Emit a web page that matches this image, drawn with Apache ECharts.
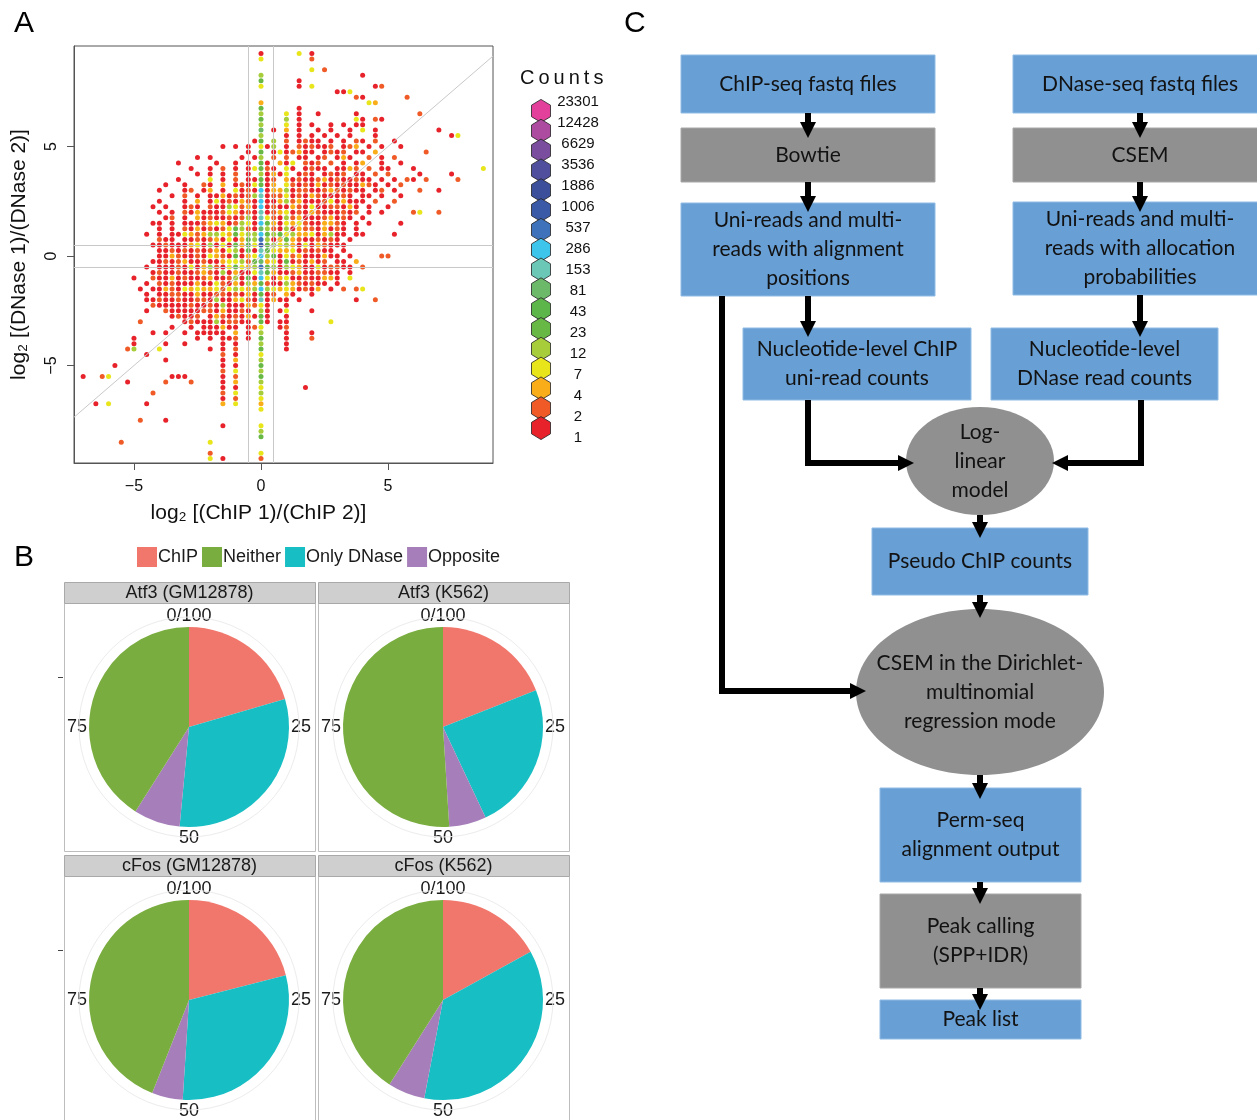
<!DOCTYPE html>
<html>
<head>
<meta charset="utf-8">
<title>Perm-seq figure</title>
<script src="https://cdn.jsdelivr.net/npm/echarts@6/dist/echarts.min.js"></script>
<style>
  html, body { margin: 0; padding: 0; background: #fff; }
  #main { width: 1257px; height: 1120px; }
</style>
</head>
<body>
<div id="main"></div>
<script>
// ---------- panel A : hexbin counts ----------
// one string per y level, top row y = 9.25, going down by 0.25
// groups of 4 chars = one x unit, first group starts at x = -7 (step 0.25)
// r=1 o=2 a=4 y=7 l=12 g=23 G=43 m=81 t=153 c=286 b=537 B=1006
var hexRows = [
  ".... .... .... .... .... .... .... r... ..y. r... .... .... .... .... .... .... ....",
  ".... .... .... .... .... .... .... y... .... o... .... .... .... .... .... .... ....",
  ".... .... .... .... .... .... .... .... .... .... .... .... .... .... .... .... ....",
  ".... .... .... .... .... .... .... .... .... y.o. .... .... .... .... .... .... ....",
  ".... .... .... .... .... .... .... l... .... .... .... r... .... .... .... .... ....",
  ".... .... .... .... .... .... .... g... ..r. .... .... .... .... .... .... .... ....",
  ".... .... .... .... .... .... .... y... ..r. y... .... ..ro .... .... .... .... ....",
  ".... .... .... .... .... .... .... .... .... .... rry. .... .... .... .... .... ....",
  ".... .... .... .... .... .... .... .... .... .... ...o r... ...o .... .... .... ....",
  ".... .... .... .... .... .... .... a... .... .... .... .ya. .... .... .... .... ....",
  ".... .... .... .... .... .... .... g... ..r. .... .... .... .... .... .... .... ....",
  ".... .... .... .... .... .... .... l... y.r. .r.. ...r .... .... .o.. .... .... ....",
  ".... .... .... .... .... .... .... g... l.r. .... ...y r.or .... .... .... .... ....",
  ".... .... .... .... .... .... .... l... y.r. r..r .r.r r... .... .... .... .... ....",
  ".... .... .... .... .... .... .... m.r. a.r. .r.r ..r. y.r. .... .... r... .... ....",
  ".... .... .... .... .... .... .... l... r.r. r.r. r.r. ..r. .... .... ..ry .... ....",
  ".... .... .... .... .... .... ...r g.l. o.ro rr.r .r.o r.o. .r.. .... .... .... ....",
  ".... .... .... .... .... ..r. r.r. yrl. r.or orro .roa .r.r ..r. .... .... .... ....",
  ".... .... .... .... .... .... ..r. g.ry roar r.ro ro.r r.a. .... ..o. .... .... ....",
  ".... .... .... .... ..r. r... .r.r l.o. o.rr .ro. rar. .o.r .o.. .... .... .... ....",
  ".... .... .... ...r .... .r.. r.r. gr.a ry.o ro.o .r.r a..r ..r. .... .... .... ....",
  ".... .... .... .... .r.. r.o. r.ry gor. yr.r orr. rrao .o.r r... r... .... ...y ....",
  ".... .... .... .... ..r. r.r. o.r. lrar y.ro r.ro ro.r r.o. o... .r.. ..r. .... ....",
  ".... .... .... ...r .... y.r. o.rr gro. aror roar orro rr.r .r.o r.o. ...o .... ....",
  ".... .... .... .r.. r..o r.a. rory gra. yoro raro rorr aor. r.o. .... .... .... ....",
  ".... .... .... r... ro.r a.r. yror craa lroo rroa oror r.ro .r.. .o.. r... .... ....",
  ".... .... .... ..r. o.r. rrar orol troo yror aorr ror. rr.r ..r. .... .... .... ....",
  ".... .... .... r... r.a. ryro raor crra loar rroy rarr r.o. .o.. .... .... .... ....",
  ".... .... ...r .r.. ror. orrl yoar cror raor yrro orar .r.. r... .... .... .... ....",
  ".... .... .... r.r. orar rroy aror troa yror aorr roro .r.r .... oy.. o... .... ....",
  ".... .... .... .ro. r.ar orro rolr tyor loar rroa ror. r... .... .... .... .... ....",
  ".... .... ...r r.r. rrro ayar olyr cgar yayo rraa or.r .r.. ..r. .... .... .... ....",
  ".... .... .... r.r. orar oroy glor mlor lrao orar or.r .... .... .... .... .... ....",
  ".... .... ..r. r.rr yaoa llya gyll cglg ylaa yral rr.r r... .r.. .... .... .... ....",
  ".... .... .... orr. rror oary ragl blra gaor roro r.r. .... .... .... .... .... ....",
  ".... .... ...r rorr rayr lryr gaGy Bgly lary raor rr.. .... .... .... .... .... ....",
  ".... .... .... rror oror oary lrgr tgya ayro rorr .r.. .... .... .... .... .... ....",
  ".... .... .... rrao rror yaor gray clgr yoar rrar r.r. ...o o... .... .... .... ....",
  ".... .... ...r roro arro rray ylog mayr gror aro. rr.a .... .... .... .... .... ....",
  ".... .... ..r. rrro ryra lory gyal bglr lyar ryro orr. o... .... .... .... .... ....",
  ".... .... ...r orro rroa orlr arry tgar roar roor r.r. .... .... .... .... .... ....",
  ".... .... r..o rrar orro arro lrgr cyra yrro rraa r.y. .... .... .... .... .... ....",
  ".... .... ..r. oror rrar ryor arla gorr laor orr. r... .... .... .... .... .... ....",
  ".... .... .r.r raor yaya ayoy lyal clya yaro ra.r .o.o y... .... .... .... .... ....",
  ".... .... ..r. rroo rrar roor orar gro. ar.. r... .... .... .... .... .... .... ....",
  ".... .... ..rr orro rroo rlrr ayor trar r.r. .... ...r ..o. .... .... .... .... ....",
  ".... .... ...o rrrr rorr orlr rrao yr.. r... .... .... .... .... .... .... .... ....",
  ".... .... ..r. .orr rrro orar ror. lr.r y... r... .... .... .... .... .... .... ....",
  ".... .... .... ..ro rro. raor orar gr.. r... .... .... .... .... .... .... .... ....",
  ".... .... .o.. .... rorr rlro orr. gr.r r... ...y .... .... .... .... .... .... ....",
  ".... .... .... ..r. .r.r rrar r.ro y..r o... .... .... .... .... .... .... .... ....",
  ".... .... ...r .r.. r.rr rrr. a.r. l... r... r... .... .... .... .... .... .... ....",
  ".... .... r... .... ..r. r.rr o.r. g... r... o... .... .... .... .... .... .... ....",
  ".... .... r... .r.. r... ..r. r... l... r... .... .... .... .... .... .... .... ....",
  ".... ...o l... y... .... r.r. o... g... r... .... .... .... .... .... .... .... ....",
  ".... .... ..r. .... .... ..o. r... y... .... .... .... .... .... .... .... .... ....",
  ".... .... .... .r.. .... ..r. a... l... .... .... .... .... .... .... .... .... ....",
  ".... .r.. .... .... .... ..r. r... g... .... .... .... .... .... .... .... .... ....",
  ".... .... .... .... .... ..o. y... l... .... .... .... .... .... .... .... .... ....",
  "r..o y... .... ..rr r... ..r. o... g... .... .... .... .... .... .... .... .... ....",
  ".... ...r .... .o.. .o.. ..r. a... l... .... .... .... .... .... .... .... .... ....",
  ".... .... .... .... .... ..r. r... y... ...r .... .... .... .... .... .... .... ....",
  ".... .... ...o .... .... ..o. y... l... .... .... .... .... .... .... .... .... ....",
  ".... .... .... .... .... ..r. o... y... .... .... .... .... .... .... .... .... ....",
  "..r. y... ..r. .... .... ..a. y... a... .... .... .... .... .... .... .... .... ....",
  ".... .... .... .... .... .... .... y... .... .... .... .... .... .... .... .... ....",
  ".... .... .... .... .... .... .... .... .... .... .... .... .... .... .... .... ....",
  ".... .... .o.. .r.. .... .... .... .... .... .... .... .... .... .... .... .... ....",
  ".... .... .... .... .... ..r. .... y... .... .... .... .... .... .... .... .... ....",
  ".... .... .... .... .... .... .... l... .... .... .... .... .... .... .... .... ....",
  ".... .... .... .... .... .... .... g... .... .... .... .... .... .... .... .... ....",
  ".... ..o. .... .... .... y... .... .... .... .... .... .... .... .... .... .... ....",
  ".... .... .... .... .... .... .... .... .... .... .... .... .... .... .... .... ....",
  ".... .... .... .... .... o... .... y... .... .... .... .... .... .... .... .... ....",
  ".... .... .... .... .... y.r. .... o... .... .... .... .... .... .... .... .... ...."
];
var rowTop = 9.25, colLeft = -7, cellStep = 0.25;
var codeCounts = { r: '1', o: '2', a: '4', y: '7', l: '12', g: '23', G: '43', m: '81', t: '153', c: '286', b: '537', B: '1006' };

var countLevels = ['23301', '12428', '6629', '3536', '1886', '1006', '537', '286', '153', '81', '43', '23', '12', '7', '4', '2', '1'];
var levelColors = ['#e2409a', '#ac4b9f', '#7b4d9e', '#4f4f9d', '#3c4f9b', '#3a59a7', '#3e72ba', '#3ec5ec', '#6bc7b6', '#6cb96a', '#5db649', '#68b846', '#a7cd3a', '#e9e51b', '#f9ad19', '#ef5a26', '#e8222a'];

var xTicks = [-5, 0, 5];
var yTicks = [-5, 0, 5];
var foldCut = [-0.5, 0.5];

// ---------- panel B : percentage of peaks per class ----------
var facetTitles = ['Atf3 (GM12878)', 'Atf3 (K562)', 'cFos (GM12878)', 'cFos (K562)'];
var pieCategories = ['ChIP', 'Only DNase', 'Opposite', 'Neither'];
var chipPct = [20.5, 19, 21, 17];
var onlyDnasePct = [31, 24, 30, 36];
var oppositePct = [7.5, 6, 5, 6];
var neitherPct = [41, 51, 44, 41];
var legendOrder = ['ChIP', 'Neither', 'Only DNase', 'Opposite'];
var angleTicks = [0, 25, 50, 75];

// ---------- panel C : pipeline ----------
var flowText = [
  'ChIP-seq fastq files',
  'DNase-seq fastq files',
  'Bowtie',
  'CSEM',
  'Uni-reads and multi-\nreads with alignment\npositions',
  'Uni-reads and multi-\nreads with allocation\nprobabilities',
  'Nucleotide-level ChIP\nuni-read counts',
  'Nucleotide-level\nDNase read counts',
  'Log-\nlinear\nmodel',
  'Pseudo ChIP counts',
  'CSEM in the Dirichlet-\nmultinomial\nregression mode',
  'Perm-seq\nalignment output',
  'Peak calling\n(SPP+IDR)',
  'Peak list'
];
var flowKind = ['file', 'file', 'tool', 'tool', 'file', 'file', 'file', 'file', 'model', 'file', 'model', 'file', 'tool', 'file'];

// layout (pixels of the figure)
var flowBoxes = [
  [681, 55, 935, 113], [1013, 55, 1267, 113],
  [681, 128, 935, 182], [1013, 128, 1267, 182],
  [681, 203, 935, 296], [1013, 202, 1267, 295],
  [743, 328, 971, 400], [991, 328, 1218, 400],
  [906, 407, 1054, 515],
  [872, 528, 1088, 595],
  [856, 609, 1104, 775],
  [880, 788, 1081, 882],
  [880, 894, 1081, 988],
  [880, 1000, 1081, 1039]
];
var flowArrows = [
  [[808, 113], [808, 130]],
  [[808, 182], [808, 204]],
  [[1140, 113], [1140, 130]],
  [[1140, 182], [1140, 204]],
  [[808, 296], [808, 329]],
  [[1140, 295], [1140, 329]],
  [[808, 400], [808, 463], [906, 463]],
  [[1141, 400], [1141, 463], [1060, 463]],
  [[980, 515], [980, 530]],
  [[980, 595], [980, 610]],
  [[722, 296], [722, 691], [858, 691]],
  [[980, 775], [980, 791]],
  [[980, 882], [980, 896]],
  [[980, 988], [980, 1002]]
];
var pieCenters = [[189, 727], [443, 727], [189, 1000], [443, 1000]];
var stripBoxes = [[64, 582, 315, 603], [318, 582, 569, 603], [64, 855, 315, 876], [318, 855, 569, 876]];
var panelBoxes = [[64, 603, 315, 851], [318, 603, 569, 851], [64, 876, 315, 1130], [318, 876, 569, 1130]];

var catColors = { 'ChIP': '#f1766b', 'Neither': '#7aad3f', 'Only DNase': '#17bec3', 'Opposite': '#a67fba' };
var pieValues = { 'ChIP': chipPct, 'Only DNase': onlyDnasePct, 'Opposite': oppositePct, 'Neither': neitherPct };

var chart = echarts.init(document.getElementById('main'));

// hexbin points
var hexData = [];
hexRows.forEach(function (row, j) {
  var s = row.replace(/ /g, '');
  for (var i = 0; i < s.length; i++) {
    var c = s.charAt(i);
    if (c === '.') continue;
    hexData.push([colLeft + i * cellStep, rowTop - j * cellStep, codeCounts[c]]);
  }
});

function minusFmt(v) {
  return v < 0 ? '\u2212' + Math.abs(v) : String(v);
}

var series = [];

series.push({
  type: 'scatter',
  name: 'hexbin',
  xAxisIndex: 0,
  yAxisIndex: 0,
  symbol: 'circle',
  symbolSize: 5,
  silent: true,
  data: hexData,
  itemStyle: {
    opacity: 1,
    color: function (p) {
      return levelColors[countLevels.indexOf(p.data[2])];
    }
  },
  markLine: {
    silent: true,
    symbol: 'none',
    label: { show: false },
    lineStyle: { color: '#c9c9c9', width: 1, type: 'solid' },
    data: [
      { xAxis: foldCut[0] }, { xAxis: foldCut[1] },
      { yAxis: foldCut[0] }, { yAxis: foldCut[1] },
      [{ coord: [-7.36, -7.36] }, { coord: [9.13, 9.13] }]
    ]
  },
  z: 3
});

// hexagon legend
series.push({
  type: 'scatter',
  xAxisIndex: 1,
  yAxisIndex: 1,
  symbol: 'path://M0,-1 L0.866,-0.5 L0.866,0.5 L0,1 L-0.866,0.5 L-0.866,-0.5 Z',
  symbolSize: [19, 23],
  silent: true,
  data: countLevels.map(function (c, k) {
    return { value: [0.5, c], itemStyle: { color: levelColors[k] } };
  }),
  itemStyle: { borderColor: '#222', borderWidth: 0.8, opacity: 1 }
});

// pies
pieCenters.forEach(function (c, k) {
  series.push({
    type: 'pie',
    center: c,
    radius: [0, 100],
    startAngle: 90,
    clockwise: true,
    silent: true,
    animation: false,
    label: { show: false },
    labelLine: { show: false },
    itemStyle: { borderWidth: 0 },
    data: pieCategories.map(function (n) {
      return { name: n, value: pieValues[n][k], itemStyle: { color: catColors[n] } };
    })
  });
});

// flow chart boxes
series.push({
  type: 'custom',
  xAxisIndex: 3,
  yAxisIndex: 3,
  silent: true,
  clip: false,
  data: flowBoxes,
  encode: { x: [0, 2], y: [1, 3] },
  renderItem: function (params, api) {
    var i = params.dataIndex;
    var b = flowBoxes[i];
    var p0 = api.coord([b[0], b[1]]);
    var p1 = api.coord([b[2], b[3]]);
    var x = Math.min(p0[0], p1[0]), y = Math.min(p0[1], p1[1]);
    var w = Math.abs(p1[0] - p0[0]), h = Math.abs(p1[1] - p0[1]);
    var kind = flowKind[i];
    var fill = kind === 'file' ? '#689fd5' : '#909090';
    var shape;
    if (kind === 'model') {
      shape = { type: 'ellipse', shape: { cx: x + w / 2, cy: y + h / 2, rx: w / 2, ry: h / 2 }, style: { fill: fill } };
    } else {
      shape = { type: 'rect', shape: { x: x, y: y, width: w, height: h }, style: { fill: fill, stroke: kind === 'file' ? '#8fbbe4' : '#a8a8a8', lineWidth: 1 } };
    }
    return {
      type: 'group',
      children: [shape, {
        type: 'text',
        style: {
          text: flowText[i],
          x: x + w / 2,
          y: y + h / 2,
          align: 'center',
          verticalAlign: 'middle',
          fontFamily: 'Lato',
          fontSize: 21,
          lineHeight: 29,
          fill: '#121212'
        }
      }]
    };
  },
  z: 2
});

// arrow stems (polylines) and heads (last segment)
series.push({
  type: 'lines',
  coordinateSystem: 'cartesian2d',
  xAxisIndex: 3,
  yAxisIndex: 3,
  polyline: true,
  silent: true,
  symbol: 'none',
  lineStyle: { color: '#000', width: 6, opacity: 1, join: 'miter', cap: 'butt' },
  data: flowArrows.map(function (a) { return { coords: a }; }),
  z: 5
});
series.push({
  type: 'lines',
  coordinateSystem: 'cartesian2d',
  xAxisIndex: 3,
  yAxisIndex: 3,
  silent: true,
  symbol: ['none', 'triangle'],
  symbolSize: [21, 16],
  lineStyle: { color: '#000', width: 6, opacity: 1, cap: 'butt' },
  data: flowArrows.map(function (a) { return { coords: a.slice(-2) }; }),
  z: 6
});

// facet frames and strips
var graphic = [];
panelBoxes.forEach(function (b) {
  graphic.push({ type: 'rect', silent: true, shape: { x: b[0] + 0.5, y: b[1] + 0.5, width: b[2] - b[0], height: b[3] - b[1] }, style: { fill: '#fff', stroke: '#bdbdbd', lineWidth: 1 }, z: -10 });
});
stripBoxes.forEach(function (b, k) {
  graphic.push({ type: 'rect', silent: true, shape: { x: b[0] + 0.5, y: b[1] + 0.5, width: b[2] - b[0], height: b[3] - b[1] }, style: { fill: '#cfcfcf', stroke: '#a9a9a9', lineWidth: 1 }, z: -9 });
  graphic.push({ type: 'text', silent: true, x: (b[0] + b[2]) / 2, y: (b[1] + b[3]) / 2 + 1, style: { text: facetTitles[k], align: 'center', verticalAlign: 'middle', fontFamily: 'Liberation Sans', fontSize: 18, fill: '#1a1a1a' }, z: 1 });
});
pieCenters.forEach(function (c) {
  graphic.push({ type: 'line', silent: true, shape: { x1: 58, y1: c[1] - 50 + 0.5, x2: 63, y2: c[1] - 50 + 0.5 }, style: { stroke: '#444', lineWidth: 1 } });
});
graphic.push({
  type: 'text', silent: true, x: 520, y: 68,
  style: { text: 'C\u2009o\u2009u\u2009n\u2009t\u2009s', fontFamily: 'Liberation Sans', fontSize: 20, fill: '#111' }
});

var option = {
  animation: false,
  backgroundColor: '#fff',
  textStyle: { fontFamily: 'Liberation Sans' },
  title: [
    { text: 'A', left: 9, top: 4, textStyle: { fontSize: 30, fontWeight: 'normal', color: '#000', fontFamily: 'Liberation Sans' } },
    { text: 'B', left: 9, top: 538, textStyle: { fontSize: 30, fontWeight: 'normal', color: '#000', fontFamily: 'Liberation Sans' } },
    { text: 'C', left: 619, top: 4, textStyle: { fontSize: 30, fontWeight: 'normal', color: '#000', fontFamily: 'Liberation Sans' } }
  ],
  legend: {
    data: legendOrder,
    left: 132,
    top: 542,
    icon: 'rect',
    itemWidth: 20,
    itemHeight: 20,
    itemGap: 4,
    selectedMode: false,
    textStyle: { fontSize: 18, color: '#1a1a1a', padding: [0, 0, 0, -4] }
  },
  grid: [
    { left: 74, top: 46, width: 419, height: 417, show: true, borderColor: '#555', borderWidth: 1, backgroundColor: 'transparent' },
    { left: 532, top: 101, width: 18, height: 337 },
    { left: 578, top: 102, width: 1, height: 336 },
    { left: 640, top: 0, width: 617, height: 1120 }
  ],
  xAxis: [
    {
      gridIndex: 0, type: 'value', min: -7.36, max: 9.13,
      name: 'log\u2082 [(ChIP 1)/(ChIP 2)]', nameLocation: 'middle', nameGap: 40,
      nameTextStyle: { fontSize: 21, color: '#111', padding: [0, 50, 0, 0] },
      axisLine: { show: true, onZero: false, lineStyle: { color: '#555' } },
      axisTick: { show: true, length: 7, customValues: xTicks, lineStyle: { color: '#555' } },
      axisLabel: { customValues: xTicks, formatter: minusFmt, fontSize: 16, color: '#111', margin: 16 },
      splitLine: { show: false }
    },
    { gridIndex: 1, type: 'value', min: 0, max: 1, show: false },
    { gridIndex: 2, type: 'value', min: 0, max: 1, show: false },
    { gridIndex: 3, type: 'value', min: 640, max: 1257, show: false }
  ],
  yAxis: [
    {
      gridIndex: 0, type: 'value', min: -9.45, max: 9.59,
      name: 'log\u2082 [(DNase 1)/(DNase 2)]', nameLocation: 'middle', nameGap: 44, nameRotate: 90,
      nameTextStyle: { fontSize: 21, color: '#111' },
      axisLine: { show: true, onZero: false, lineStyle: { color: '#555' } },
      axisTick: { show: true, length: 7, customValues: yTicks, lineStyle: { color: '#555' } },
      axisLabel: { customValues: yTicks, formatter: minusFmt, fontSize: 16, color: '#111', rotate: 90, margin: 14 },
      splitLine: { show: false }
    },
    {
      gridIndex: 1, type: 'category', data: countLevels, inverse: true, show: false
    },
    {
      gridIndex: 2, type: 'category', data: countLevels, inverse: true, boundaryGap: false,
      axisLine: { show: false }, axisTick: { show: false }, splitLine: { show: false },
      axisLabel: { show: true, interval: 0, align: 'center', margin: 0, fontSize: 15, color: '#111' }
    },
    { gridIndex: 3, type: 'value', min: 0, max: 1120, inverse: true, show: false }
  ],
  polar: pieCenters.map(function (c) { return { center: c, radius: 110 }; }),
  angleAxis: pieCenters.map(function (c, k) {
    return {
      polarIndex: k, type: 'value', min: 0, max: 100, interval: 25, startAngle: 90, clockwise: true,
      axisLine: { show: true, lineStyle: { color: '#ececec', width: 1 } },
      axisTick: { show: false },
      splitLine: { show: false },
      axisLabel: {
        margin: -8, fontSize: 18, color: '#1a1a1a',
        formatter: function (v) { return v === 0 ? '0/100' : (angleTicks.indexOf(v) >= 0 ? String(v) : ''); }
      }
    };
  }),
  radiusAxis: pieCenters.map(function (c, k) {
    return { polarIndex: k, type: 'value', min: 0, max: 1, show: false };
  }),
  graphic: graphic,
  series: series
};

chart.setOption(option);
</script>
</body>
</html>
